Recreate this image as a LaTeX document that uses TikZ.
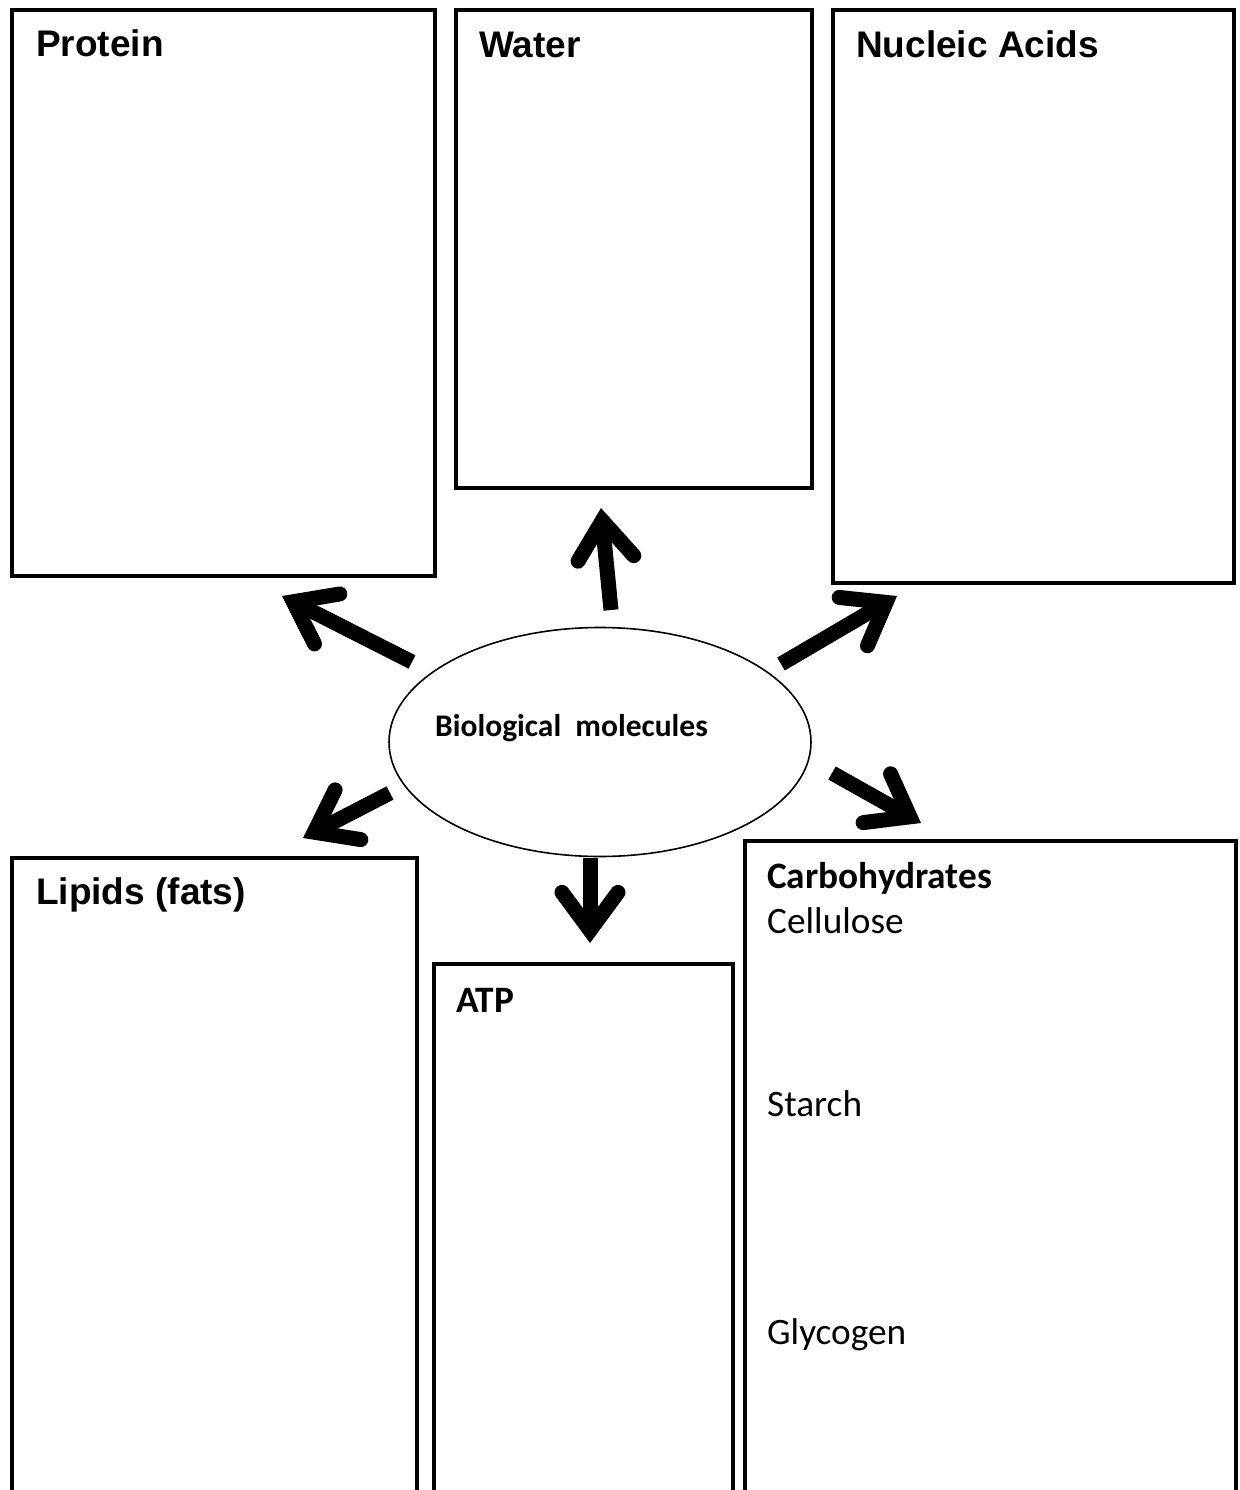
\documentclass[tikz,border=0pt]{standalone}
\usepackage{fontspec}
\setmainfont{Liberation Sans}
\newfontfamily\calibri{Carlito}
\usetikzlibrary{arrows.meta,shapes.geometric}

\begin{document}
\begin{tikzpicture}[x=1pt,y=-1pt,
  panel/.style={draw, line width=4pt, anchor=north west, inner sep=0pt, outer sep=0pt},
  title/.style={anchor=base west, inner sep=0pt, font=\fontsize{37}{44}\selectfont\bfseries},
  ctitle/.style={anchor=base west, inner sep=0pt, font=\calibri\fontsize{37.3}{44}\selectfont\bfseries},
  item/.style={anchor=base west, inner sep=0pt, font=\calibri\fontsize{37.3}{44}\selectfont},
  bigarrow/.style={line width=15pt, -{Straight Barb[length=38pt, width=56pt, line cap=round, line join=miter]}}]
\useasboundingbox (0,0) rectangle (1239,1490);
\clip (0,0) rectangle (1239,1490);

% the six panels (lower ones run off the page)
\node[panel, minimum width=423pt, minimum height=566pt] (protein) at (12,10) {};
\node[panel, minimum width=356pt, minimum height=478pt] (water) at (456,10) {};
\node[panel, minimum width=401pt, minimum height=573pt] (nucleic) at (833,10) {};
\node[panel, minimum width=405pt, minimum height=700pt] (lipids) at (12,858) {};
\node[panel, minimum width=299pt, minimum height=600pt] (atp) at (434,964) {};
\node[panel, minimum width=491pt, minimum height=700pt] (carbs) at (745,841) {};

\node[title] (proteinlbl) at (36,57) {Protein};
\node[title] (waterlbl) at (479,58) {Water};
\node[title] (nucleiclbl) at (856,58) {Nucleic Acids};
\node[title] (lipidslbl) at (36,904) {Lipids (fats)};
\node[ctitle] (atplbl) at (456,1012) {ATP};
\node[ctitle] (carbslbl) at (767,888) {Carbohydrates};
\node[item] (cellulose) at (767,933) {Cellulose};
\node[item] (starch) at (767,1116) {Starch};
\node[item] (glycogen) at (767,1344) {Glycogen};

% centre
\node[draw, ellipse, line width=1.6pt, minimum width=422pt, minimum height=229pt] (bio) at (600,742) {};
\node[anchor=base west, inner sep=0pt, font=\calibri\fontsize{31.5}{38}\selectfont\bfseries] (biolbl) at (435,736) {Biological\ \ molecules};

% arrow ends
\coordinate (sProtein) at (412,662);  \coordinate (tProtein) at (282,596);
\coordinate (sWater) at (611,610);    \coordinate (tWater) at (601,508);
\coordinate (sNucleic) at (781,664);  \coordinate (tNucleic) at (897,596);
\coordinate (sLipids) at (390,793);   \coordinate (tLipids) at (303,838);
\coordinate (sAtp) at (590,858);      \coordinate (tAtp) at (590,943);
\coordinate (sCarbs) at (832,773);    \coordinate (tCarbs) at (921,823);

\foreach \n in {Protein,Water,Nucleic,Lipids,Atp,Carbs}
  \draw[bigarrow] (s\n) -- (t\n);
\end{tikzpicture}
\end{document}
